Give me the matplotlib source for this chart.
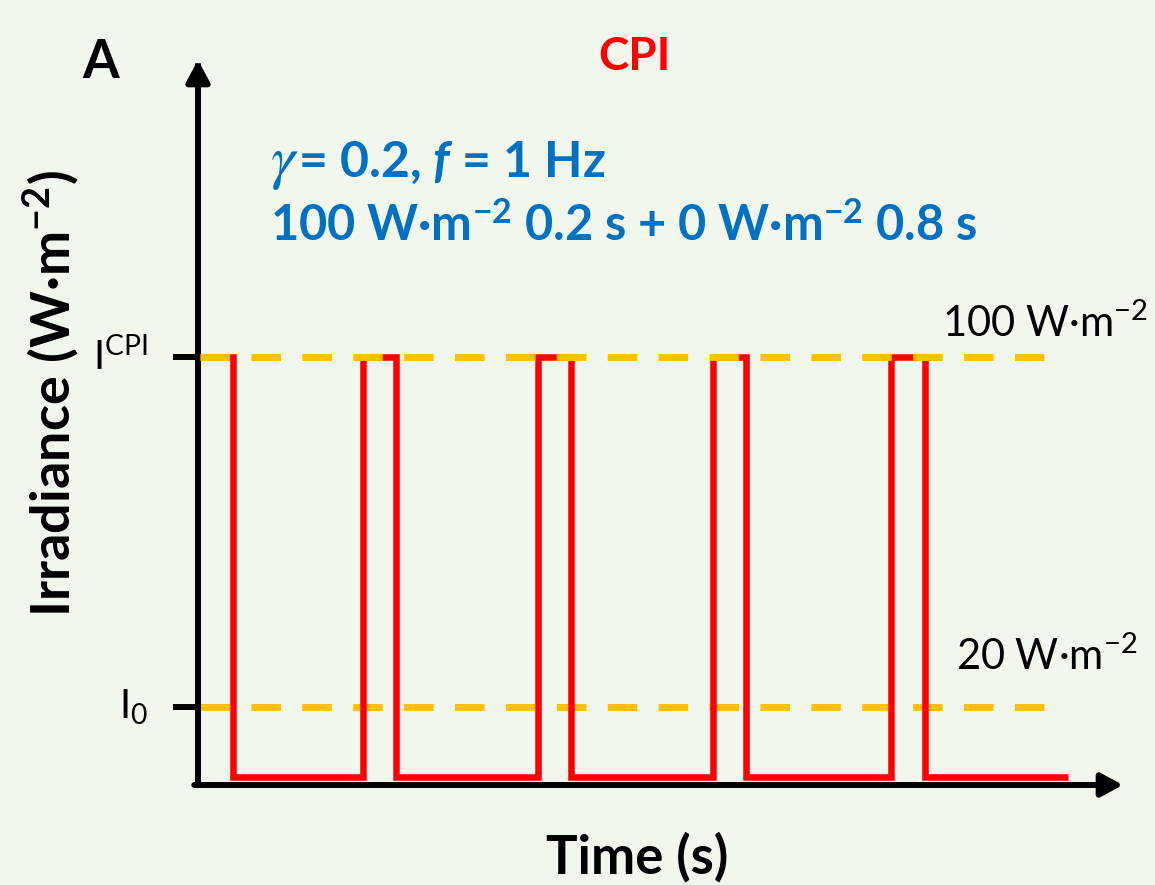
import matplotlib
matplotlib.use("Agg")
import matplotlib.pyplot as plt
import numpy as np

# ---- data (schematic CPI light regime) ----
pulse_on = [0.00, 0.93, 1.93, 2.93, 3.95]     # s, start of each high-light pulse
pulse_off = [0.19, 1.12, 2.12, 3.12, 4.14]    # s, end of each pulse
wave_end = 4.96                               # s
level_high = 100.0                            # I_CPI (schematic units)
level_low = 0.0
level_i0 = 16.7                               # I_0 drawn position (schematic)
dash_end = 4.829
ytick_vals = [level_high, level_i0]
ytick_labels = [r"$\mathregular{I^{CPI}}$", r"$\mathregular{I_{0}}$"]

plt.rcParams['font.family'] = ['Lato', 'DejaVu Sans']
plt.rcParams['mathtext.fontset'] = 'custom'
plt.rcParams['mathtext.rm'] = 'Lato'
plt.rcParams['mathtext.it'] = 'Lato:italic'
plt.rcParams['mathtext.bf'] = 'Lato:bold'
plt.rcParams['mathtext.bfit'] = 'Lato:bold:italic'
plt.rcParams['mathtext.fallback'] = 'stix'

W, H = 1155, 885
BG = '#F2F7EE'
fig = plt.figure(figsize=(W / 100, H / 100), dpi=100, facecolor=BG)

# axes: left spine at x=198 px, bottom at y=785 px, right end 1123, top 60
x0, x1, ytop, ybot = 198, 1123, 60, 785
ax = fig.add_axes([x0 / W, 1 - ybot / H, (x1 - x0) / W, (ybot - ytop) / H])
ax.set_facecolor('none')
px_per_s = 175.0
px_per_u = 4.2
base_px = 777
ax.set_xlim((x0 - 200) / px_per_s, (x1 - 200) / px_per_s)
ax.set_ylim((base_px - ybot) / px_per_u, (base_px - ytop) / px_per_u)

for s in ax.spines.values():
    s.set_visible(False)

# axis lines with arrowheads
lw_ax = 4.3
ax.annotate('', xy=(0, 1), xycoords='axes fraction', xytext=(0, 0), textcoords='axes fraction',
            arrowprops=dict(arrowstyle='-|>,head_length=13,head_width=7', mutation_scale=1,
                            lw=lw_ax, color='black', shrinkA=0, shrinkB=0,
                            capstyle='projecting'), annotation_clip=False)
ax.annotate('', xy=(1, 0), xycoords='axes fraction', xytext=(-0.004, 0), textcoords='axes fraction',
            arrowprops=dict(arrowstyle='-|>,head_length=13,head_width=7', mutation_scale=1,
                            lw=lw_ax, color='black', shrinkA=0, shrinkB=0),
            annotation_clip=False)

# square wave built from pulse lists
xs, ys = [], []
for i, (on, off) in enumerate(zip(pulse_on, pulse_off)):
    if i == 0:
        xs += [on]; ys += [level_high]
    else:
        xs += [on, on]; ys += [level_low, level_high]
    xs += [off, off]; ys += [level_high, level_low]
xs += [wave_end]; ys += [level_low]
ax.plot(xs, ys, color='#FF0000', lw=4.7, solid_joinstyle='miter', solid_capstyle='butt',
        zorder=3, clip_on=False)

# dashed reference lines
ax.plot([0, dash_end], [level_high, level_high], color='#FFC000', lw=5.0,
        dashes=(4.25, 3.08), zorder=4, clip_on=False)
ax.plot([0, dash_end], [level_i0, level_i0], color='#FFC000', lw=5.0,
        dashes=(4.25, 3.08), zorder=2, clip_on=False)

# ticks
ax.set_xticks([])
ax.set_yticks(ytick_vals)
ax.set_yticklabels(ytick_labels, fontsize=29, va='center')
ax.tick_params(axis='y', direction='out', length=18, width=lw_ax, pad=18, color='black')

# texts in axes
ax.text(4.24, 104.8, r"100 W·m$^{-2}$", fontsize=30, color='black', ha='left', va='baseline')
ax.text(4.32, 25.5, r"20 W·m$^{-2}$", fontsize=30, color='black', ha='left', va='baseline')
blue = '#0070C0'
ax.text(0.40, 142.9, r"$\gamma$", fontsize=44, color=blue, math_fontfamily='stix',
        ha='left', va='baseline')
ax.text(0.56, 142.9, r"= 0.2, $\mathbfit{f}$ = 1 Hz", fontsize=36, color=blue,
        fontweight='bold', ha='left', va='baseline')
ax.text(0.40, 127.6, r"100 W·m$^{\mathbf{-2}}$ 0.2 s + 0 W·m$^{\mathbf{-2}}$ 0.8 s", fontsize=35,
        color=blue, fontweight='bold', ha='left', va='baseline')

# figure texts
fig.text(82 / W, 1 - 78 / H, "A", fontsize=38, fontweight='bold', color='black',
         ha='left', va='baseline')
fig.text(634 / W, 1 - 70 / H, "CPI", fontsize=33, fontweight='bold', color='#FF0000',
         ha='center', va='baseline')
fig.text(637 / W, 1 - 874 / H, "Time (s)", fontsize=38, fontweight='bold', color='black',
         ha='center', va='baseline')
fig.text(52 / W, 1 - 393 / H, r"Irradiance (W·m$^{\mathbf{-2}}$)", fontsize=39,
         fontweight='bold', color='black', rotation=90, ha='center', va='center')

fig.savefig('out.png', dpi=100, facecolor=BG)
